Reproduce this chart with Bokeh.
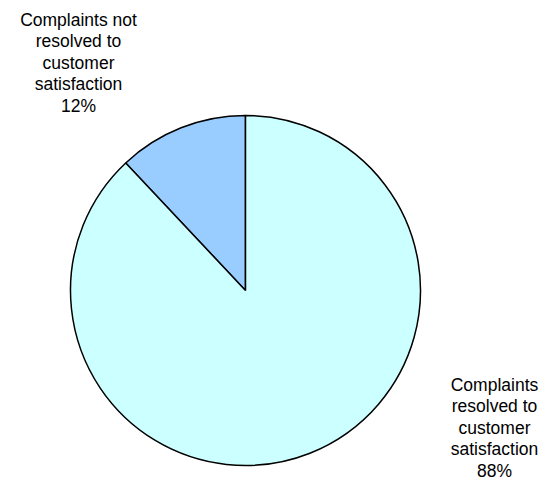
import math
from bokeh.plotting import figure
from bokeh.models import Range1d, ColumnDataSource
from bokeh.core.properties import value
from bokeh.embed import file_html
from bokeh.resources import INLINE

categories = ["Complaints not\nresolved to\ncustomer\nsatisfaction", "Complaints\nresolved to\ncustomer\nsatisfaction"]
values = [12, 88]
colors = ["#99CCFF", "#CCFFFF"]

W, H = 540, 488
p = figure(width=W, height=H, output_backend="svg", toolbar_location=None,
           x_range=Range1d(0, W), y_range=Range1d(0, H), min_border=0)
p.axis.visible = False
p.grid.visible = False
p.outline_line_color = None
p.background_fill_color = "white"

cx, cy, r = 245, H - 290, 175
total = sum(values)
starts, ends = [], []
a = math.pi / 2
for v in values:
    starts.append(a)
    a += 2 * math.pi * v / total
    ends.append(a)
src = ColumnDataSource(dict(start=starts, end=ends, color=colors))
p.wedge(x=cx, y=cy, radius=r, start_angle="start", end_angle="end",
        fill_color="color", line_color="black", line_width=1.5, source=src)

# label anchor positions (pixel coords of first line center)
label_pos = [(78, 19), (494, 384)]
line_gap = 21.6
xs, ys, ts = [], [], []
for cat, v, (lx, ly) in zip(categories, values, label_pos):
    lines = cat.split("\n") + [f"{round(100 * v / total)}%"]
    for i, t in enumerate(lines):
        xs.append(lx)
        ys.append(H - (ly + i * line_gap))
        ts.append(t)
p.text(x=xs, y=ys, text=ts, text_align="center", text_baseline="middle",
       text_font=value("Liberation Sans"), text_font_size="17.5px", text_color="black")

open("out.html", "w").write(file_html(p, INLINE))
